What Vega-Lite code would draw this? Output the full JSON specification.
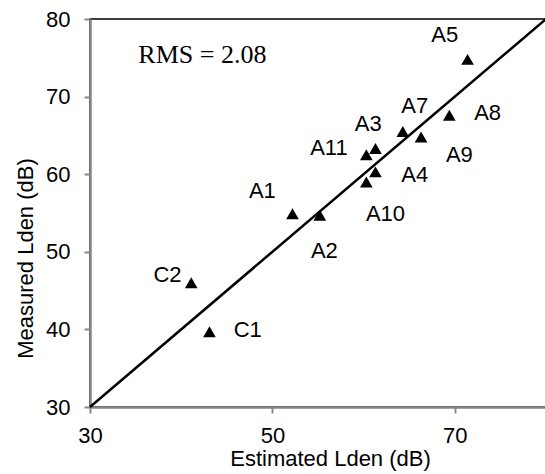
{
  "$schema": "https://vega.github.io/schema/vega-lite/v6.json",
  "width": 456,
  "height": 388,
  "autosize": "none",
  "padding": {"left": 90, "top": 19, "right": 0, "bottom": 67},
  "background": "#ffffff",
  "config": {
    "view": {"stroke": "#000000", "strokeWidth": 1.5},
    "font": "Liberation Sans",
    "axis": {
      "grid": false,
      "domainColor": "#868686",
      "domainWidth": 2.5,
      "tickColor": "#868686",
      "tickWidth": 2,
      "tickSize": 6,
      "labelFlush": false,
      "labelFont": "Liberation Sans",
      "labelFontSize": 22,
      "labelColor": "#000000",
      "titleFont": "Liberation Sans",
      "titleFontSize": 22,
      "titleFontWeight": "normal",
      "titleColor": "#000000"
    }
  },
  "datasets": {
    "points": [
      {"label": "A1", "est": 52.2, "meas": 54.9, "lx": 48.9, "ly": 57.8},
      {"label": "A2", "est": 55.2, "meas": 54.7, "lx": 55.7, "ly": 50.1},
      {"label": "A3", "est": 61.3, "meas": 63.3, "lx": 60.5, "ly": 66.5},
      {"label": "A4", "est": 61.3, "meas": 60.3, "lx": 65.6, "ly": 59.9},
      {"label": "A5", "est": 71.4, "meas": 74.8, "lx": 68.9, "ly": 77.9},
      {"label": "A7", "est": 64.3, "meas": 65.5, "lx": 65.6, "ly": 68.8},
      {"label": "A8", "est": 69.4, "meas": 67.6, "lx": 73.6, "ly": 67.9},
      {"label": "A9", "est": 66.3, "meas": 64.8, "lx": 70.5, "ly": 62.5},
      {"label": "A10", "est": 60.3, "meas": 59.0, "lx": 62.4, "ly": 54.9},
      {"label": "A11", "est": 60.3, "meas": 62.5, "lx": 56.2, "ly": 63.4},
      {"label": "C1", "est": 43.1, "meas": 39.7, "lx": 47.3, "ly": 39.9},
      {"label": "C2", "est": 41.1, "meas": 46.0, "lx": 38.5, "ly": 47.0}
    ],
    "diag": [{"x": 30, "y": 30}, {"x": 80, "y": 80}],
    "rms": [{"x": 35.3, "y": 74.3, "text": "RMS = 2.08"}]
  },
  "layer": [
    {
      "data": {"name": "diag"},
      "mark": {"type": "line", "color": "#000000", "strokeWidth": 2.5},
      "encoding": {
        "x": {
          "field": "x", "type": "quantitative",
          "scale": {"domain": [30, 80], "nice": false, "zero": false},
          "axis": {"values": [30, 50, 70], "labelPadding": 12, "title": "Estimated Lden (dB)", "titlePadding": 2, "titleX": 240}
        },
        "y": {
          "field": "y", "type": "quantitative",
          "scale": {"domain": [30, 80], "nice": false, "zero": false},
          "axis": {"values": [30, 40, 50, 60, 70, 80], "labelPadding": 14, "title": "Measured Lden (dB)", "titlePadding": 8, "titleY": 239}
        }
      }
    },
    {
      "data": {"name": "points"},
      "mark": {"type": "point", "shape": "triangle-up", "filled": true, "color": "#000000", "opacity": 1, "size": 160},
      "encoding": {
        "x": {"field": "est", "type": "quantitative"},
        "y": {"field": "meas", "type": "quantitative"}
      }
    },
    {
      "data": {"name": "points"},
      "mark": {"type": "text", "font": "Liberation Sans", "fontSize": 22, "color": "#000000", "baseline": "middle", "align": "center"},
      "encoding": {
        "x": {"field": "lx", "type": "quantitative"},
        "y": {"field": "ly", "type": "quantitative"},
        "text": {"field": "label"}
      }
    },
    {
      "data": {"name": "rms"},
      "mark": {"type": "text", "font": "Liberation Serif", "fontSize": 26, "color": "#000000", "baseline": "alphabetic", "align": "left"},
      "encoding": {
        "x": {"field": "x", "type": "quantitative"},
        "y": {"field": "y", "type": "quantitative"},
        "text": {"field": "text"}
      }
    }
  ]
}
